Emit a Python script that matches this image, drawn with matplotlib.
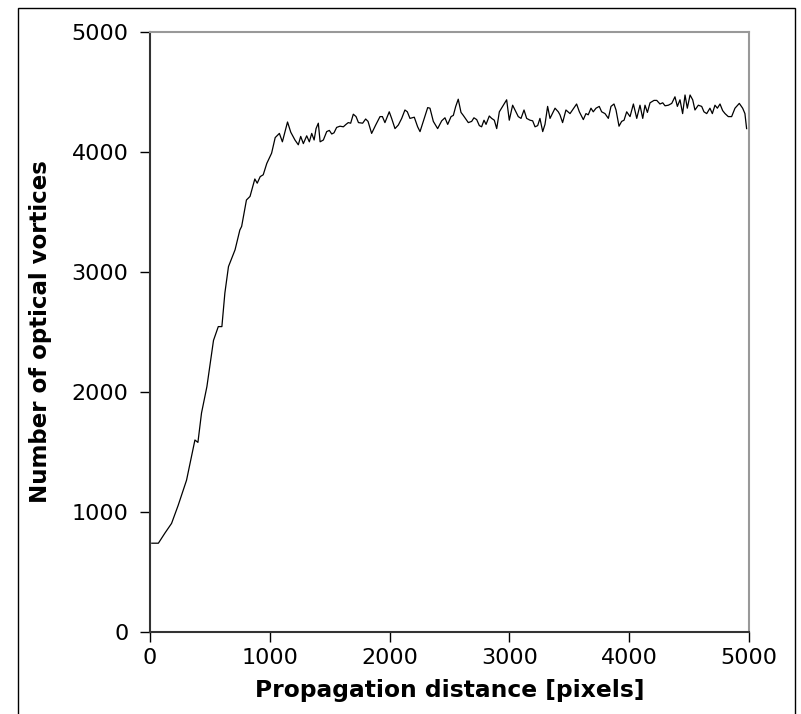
import numpy as np
import matplotlib.pyplot as plt
from matplotlib.patches import Rectangle

# data -----------------------------------------------------------------------
dist = [15, 70, 125, 180, 235, 305, 375, 400, 430, 475, 530, 570, 600, 625, 655,
        710, 750, 765, 805, 835, 875, 895, 920, 945, 975, 1015, 1045, 1080, 1105,
        1148, 1175, 1210, 1238, 1258, 1280, 1308, 1330, 1350, 1370, 1386, 1405,
        1420, 1447, 1475, 1497, 1517, 1536, 1558, 1586, 1614, 1636, 1655, 1675,
        1697, 1720, 1740, 1775, 1800, 1820, 1850, 1884, 1920, 1940, 1961, 1997,
        2017, 2045, 2073, 2101, 2128, 2148, 2170, 2206, 2234, 2254, 2281, 2318,
        2337, 2365, 2401, 2435, 2462, 2485, 2513, 2532, 2552, 2573, 2596, 2615,
        2657, 2685, 2704, 2727, 2749, 2768, 2788, 2805, 2832, 2852, 2874, 2894,
        2916, 2949, 2977, 2999, 3027, 3047, 3074, 3097, 3122, 3144, 3172, 3194,
        3214, 3236, 3255, 3278, 3297, 3319, 3339, 3381, 3408, 3422, 3444, 3472,
        3506, 3561, 3584, 3617, 3639, 3658, 3681, 3700, 3723, 3750, 3770, 3798,
        3826, 3848, 3873, 3890, 3915, 3937, 3957, 3979, 4007, 4035, 4063, 4090,
        4113, 4132, 4152, 4174, 4207, 4230, 4257, 4280, 4299, 4327, 4355, 4382,
        4402, 4424, 4446, 4466, 4485, 4508, 4530, 4549, 4577, 4605, 4624, 4647,
        4674, 4694, 4716, 4736, 4758, 4780, 4800, 4827, 4855, 4883, 4919, 4947,
        4966, 4980]
vortices = [740, 740, 825, 905, 1055, 1265, 1600, 1580, 1825, 2045, 2430, 2545,
            2545, 2825, 3045, 3185, 3350, 3380, 3600, 3630, 3775, 3740, 3795,
            3810, 3905, 3990, 4120, 4155, 4085, 4250, 4165, 4100, 4060, 4130,
            4070, 4135, 4085, 4155, 4100, 4195, 4240, 4085, 4100, 4170, 4180,
            4150, 4160, 4205, 4215, 4210, 4230, 4245, 4240, 4315, 4295, 4245,
            4240, 4275, 4255, 4155, 4225, 4295, 4295, 4245, 4335, 4280, 4195,
            4225, 4280, 4350, 4335, 4280, 4290, 4210, 4170, 4255, 4370, 4365,
            4255, 4195, 4260, 4285, 4230, 4295, 4305, 4380, 4440, 4330, 4305,
            4245, 4255, 4285, 4270, 4220, 4210, 4265, 4230, 4300, 4280, 4265,
            4195, 4335, 4390, 4435, 4265, 4390, 4350, 4295, 4280, 4350, 4280,
            4265, 4260, 4210, 4220, 4280, 4170, 4230, 4380, 4280, 4365, 4335,
            4310, 4245, 4350, 4320, 4400, 4335, 4270, 4320, 4310, 4365, 4335,
            4365, 4380, 4335, 4320, 4280, 4380, 4400, 4350, 4215, 4255, 4265,
            4335, 4295, 4400, 4280, 4390, 4280, 4390, 4330, 4410, 4430, 4430,
            4400, 4410, 4385, 4390, 4405, 4460, 4380, 4435, 4320, 4475, 4365,
            4475, 4435, 4350, 4390, 4380, 4335, 4320, 4365, 4320, 4390, 4365,
            4400, 4345, 4320, 4295, 4295, 4365, 4405, 4365, 4320, 4195]
xticks = [0, 1000, 2000, 3000, 4000, 5000]
yticks = [0, 1000, 2000, 3000, 4000, 5000]

#plot-------------------------------------------------------------------------
fig = plt.figure(figsize=(8.01, 7.14), dpi=100)
ax = fig.add_axes([150/801, 82/714, 599/801, 600/714])

ax.plot(dist, vortices, color='black', lw=0.9)

ax.set_xlim(0, 5000)
ax.set_ylim(0, 5000)
ax.set_xticks(xticks)
ax.set_yticks(yticks)
ax.tick_params(direction='out', length=7.5, width=1, labelsize=16,
               top=False, right=False)
ax.tick_params(axis='x', pad=4)
ax.tick_params(axis='y', pad=8)
ax.set_xlabel('Propagation distance [pixels]', fontsize=16.8, fontweight='bold', labelpad=8)
ax.set_ylabel('Number of optical vortices', fontsize=16.5, fontweight='bold', labelpad=14)

for s in ['left', 'bottom']:
    ax.spines[s].set_color('#333333')
    ax.spines[s].set_linewidth(1.5)
for s in ['top', 'right']:
    ax.spines[s].set_color('#999999')
    ax.spines[s].set_linewidth(1.5)

# outer frame round the figure
fig.patches.append(Rectangle((18/801, -0.02), 777/801, 1.02 - 8/714,
                             transform=fig.transFigure, fill=False,
                             edgecolor='black', lw=1.0))

fig.savefig('out.png', dpi=100)
